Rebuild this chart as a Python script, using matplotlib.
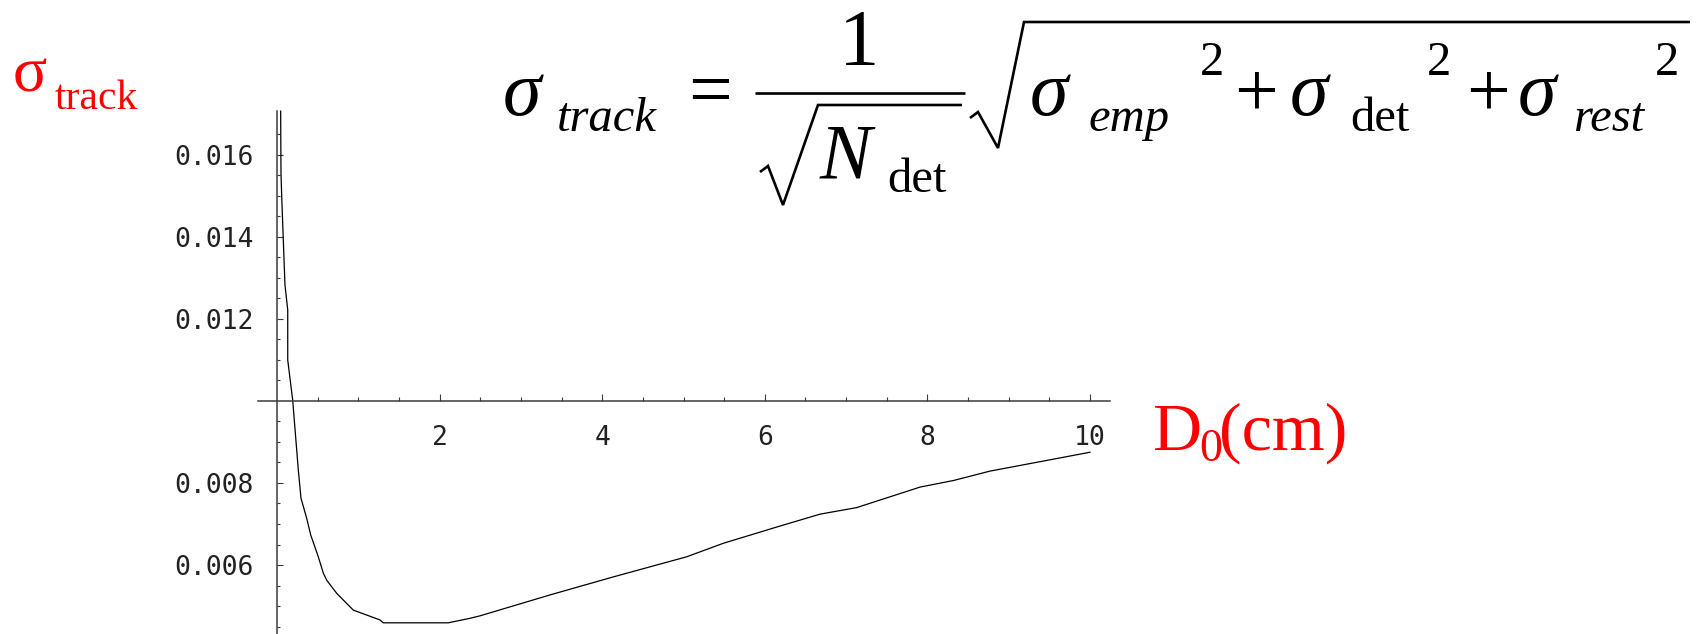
import matplotlib
matplotlib.use("Agg")
import matplotlib.pyplot as plt
from matplotlib.lines import Line2D

# Track resolution versus impact parameter
d0_cm = [0.045, 0.049, 0.058, 0.098, 0.132, 0.132, 0.193, 0.262, 0.295, 0.365,
         0.415, 0.508, 0.570, 0.611, 0.734, 0.938, 1.267, 1.307, 2.107, 2.374,
         2.497, 3.358, 4.137, 4.670, 5.039, 5.490, 6.187, 6.679, 7.130, 7.909,
         8.319, 8.770, 10.0]
sigma_track = [0.01707, 0.01556, 0.01498, 0.01283, 0.01222, 0.01100, 0.01002,
               0.00832, 0.00763, 0.00714, 0.00673, 0.00620, 0.00580, 0.00563,
               0.00531, 0.00490, 0.00466, 0.00459, 0.00459, 0.00470, 0.00476,
               0.00527, 0.00571, 0.00600, 0.00620, 0.00653, 0.00695, 0.00724,
               0.00740, 0.00790, 0.00806, 0.00829, 0.00875]

x_major = [2, 4, 6, 8, 10]
x_labels = ["2", "4", "6", "8", "10"]
y_major = [0.006, 0.008, 0.012, 0.014, 0.016]
y_labels = ["0.006", "0.008", "0.012", "0.014", "0.016"]

W, H = 1698, 634
fig = plt.figure(figsize=(W / 100, H / 100), dpi=100)
ax = fig.add_axes([0, 0, 1, 1])
ax.patch.set_alpha(0)

# pixel geometry of the plot frame
x0_px, x_scale = 277.0, 81.3        # px of x=0, px per cm
y0_px, y_scale = 401.0, 41000.0     # px of y=0.010, px per unit
ax.set_xlim(-x0_px / x_scale, (W - x0_px) / x_scale)
ax.set_ylim(0.010 - (H - y0_px) / y_scale, 0.010 + y0_px / y_scale)

ax.plot(d0_cm, sigma_track, color="black", lw=0.9, solid_joinstyle="round")

axis_col = "#3a3a3a"
for side in ("top", "right"):
    ax.spines[side].set_visible(False)
ax.spines["left"].set_position(("data", 0.0))
ax.spines["bottom"].set_position(("data", 0.010))
ax.spines["left"].set_bounds(ax.get_ylim()[0], 0.01707)
ax.spines["bottom"].set_bounds(-0.234, 10.25)
for side in ("left", "bottom"):
    ax.spines[side].set_color(axis_col)
    ax.spines[side].set_linewidth(1.1)

ax.set_xticks(x_major)
ax.set_xticklabels(x_labels)
ax.set_xticks([v * 0.5 for v in range(1, 21) if v % 4 != 0], minor=True)
ax.set_yticks(y_major)
ax.set_yticklabels(y_labels)
ax.set_yticks([0.0045 + 0.0005 * k for k in range(25)
               if round((0.0045 + 0.0005 * k) * 2000) % 4 != 0], minor=True)

ax.tick_params(axis="x", which="major", direction="in", length=5.2, width=0.8,
               color=axis_col, pad=17, labelcolor="#222222", labelsize=19)
ax.tick_params(axis="x", which="minor", direction="in", length=2.6, width=0.8,
               color=axis_col)
ax.tick_params(axis="y", which="major", direction="in", length=4.0, width=0.8,
               color=axis_col, pad=17, labelcolor="#222222", labelsize=19)
ax.tick_params(axis="y", which="minor", direction="in", length=2.4, width=0.8,
               color=axis_col)
for lab in ax.get_xticklabels() + ax.get_yticklabels():
    lab.set_fontfamily("DejaVu Sans Mono")


def put(x, y, s, size, color="black", style="normal", ha="left"):
    fig.text(x / W, 1 - y / H, s, fontsize=size, color=color, style=style,
             family="Liberation Serif", ha=ha, va="baseline")


def stroke(xs, ys, lw):
    fig.add_artist(Line2D([v / W for v in xs], [1 - v / H for v in ys],
                          color="black", lw=lw, solid_joinstyle="miter",
                          solid_capstyle="butt"))


# axis names
put(13, 91, "\u03c3", 46, color="red")
put(55, 109, "track", 30, color="red")
put(1152, 450, "D", 49, color="red")
put(1199, 461, "0", 33, color="red")
put(1219, 450, "(cm)", 49, color="red")

# resolution formula
big, small = 56, 35
put(503, 115, "\u03c3", big, style="italic")
put(557, 131, "track", small, style="italic")
put(710, 115, "=", big, ha="center")
put(859, 65, "1", 58, ha="center")
stroke([755, 965], [93, 93], 1.9)
stroke([760, 768, 783, 818, 962], [172, 166, 205, 105, 105], 1.9)
put(820, 178, "N", big, style="italic")
put(887, 192, "det", small)

stroke([970, 978, 998, 1024, 1690], [118, 112, 148, 22, 22], 1.9)
put(1030, 115, "\u03c3", big, style="italic")
put(1088, 131, "emp", small, style="italic")
put(1200, 75, "2", small)
put(1256, 115, "+", big, ha="center")
put(1290, 115, "\u03c3", big, style="italic")
put(1350, 131, "det", small)
put(1427, 75, "2", small)
put(1488, 115, "+", big, ha="center")
put(1518, 115, "\u03c3", big, style="italic")
put(1573, 131, "rest", small, style="italic")
put(1655, 75, "2", small)

fig.savefig("out.png", dpi=100, facecolor="white")
